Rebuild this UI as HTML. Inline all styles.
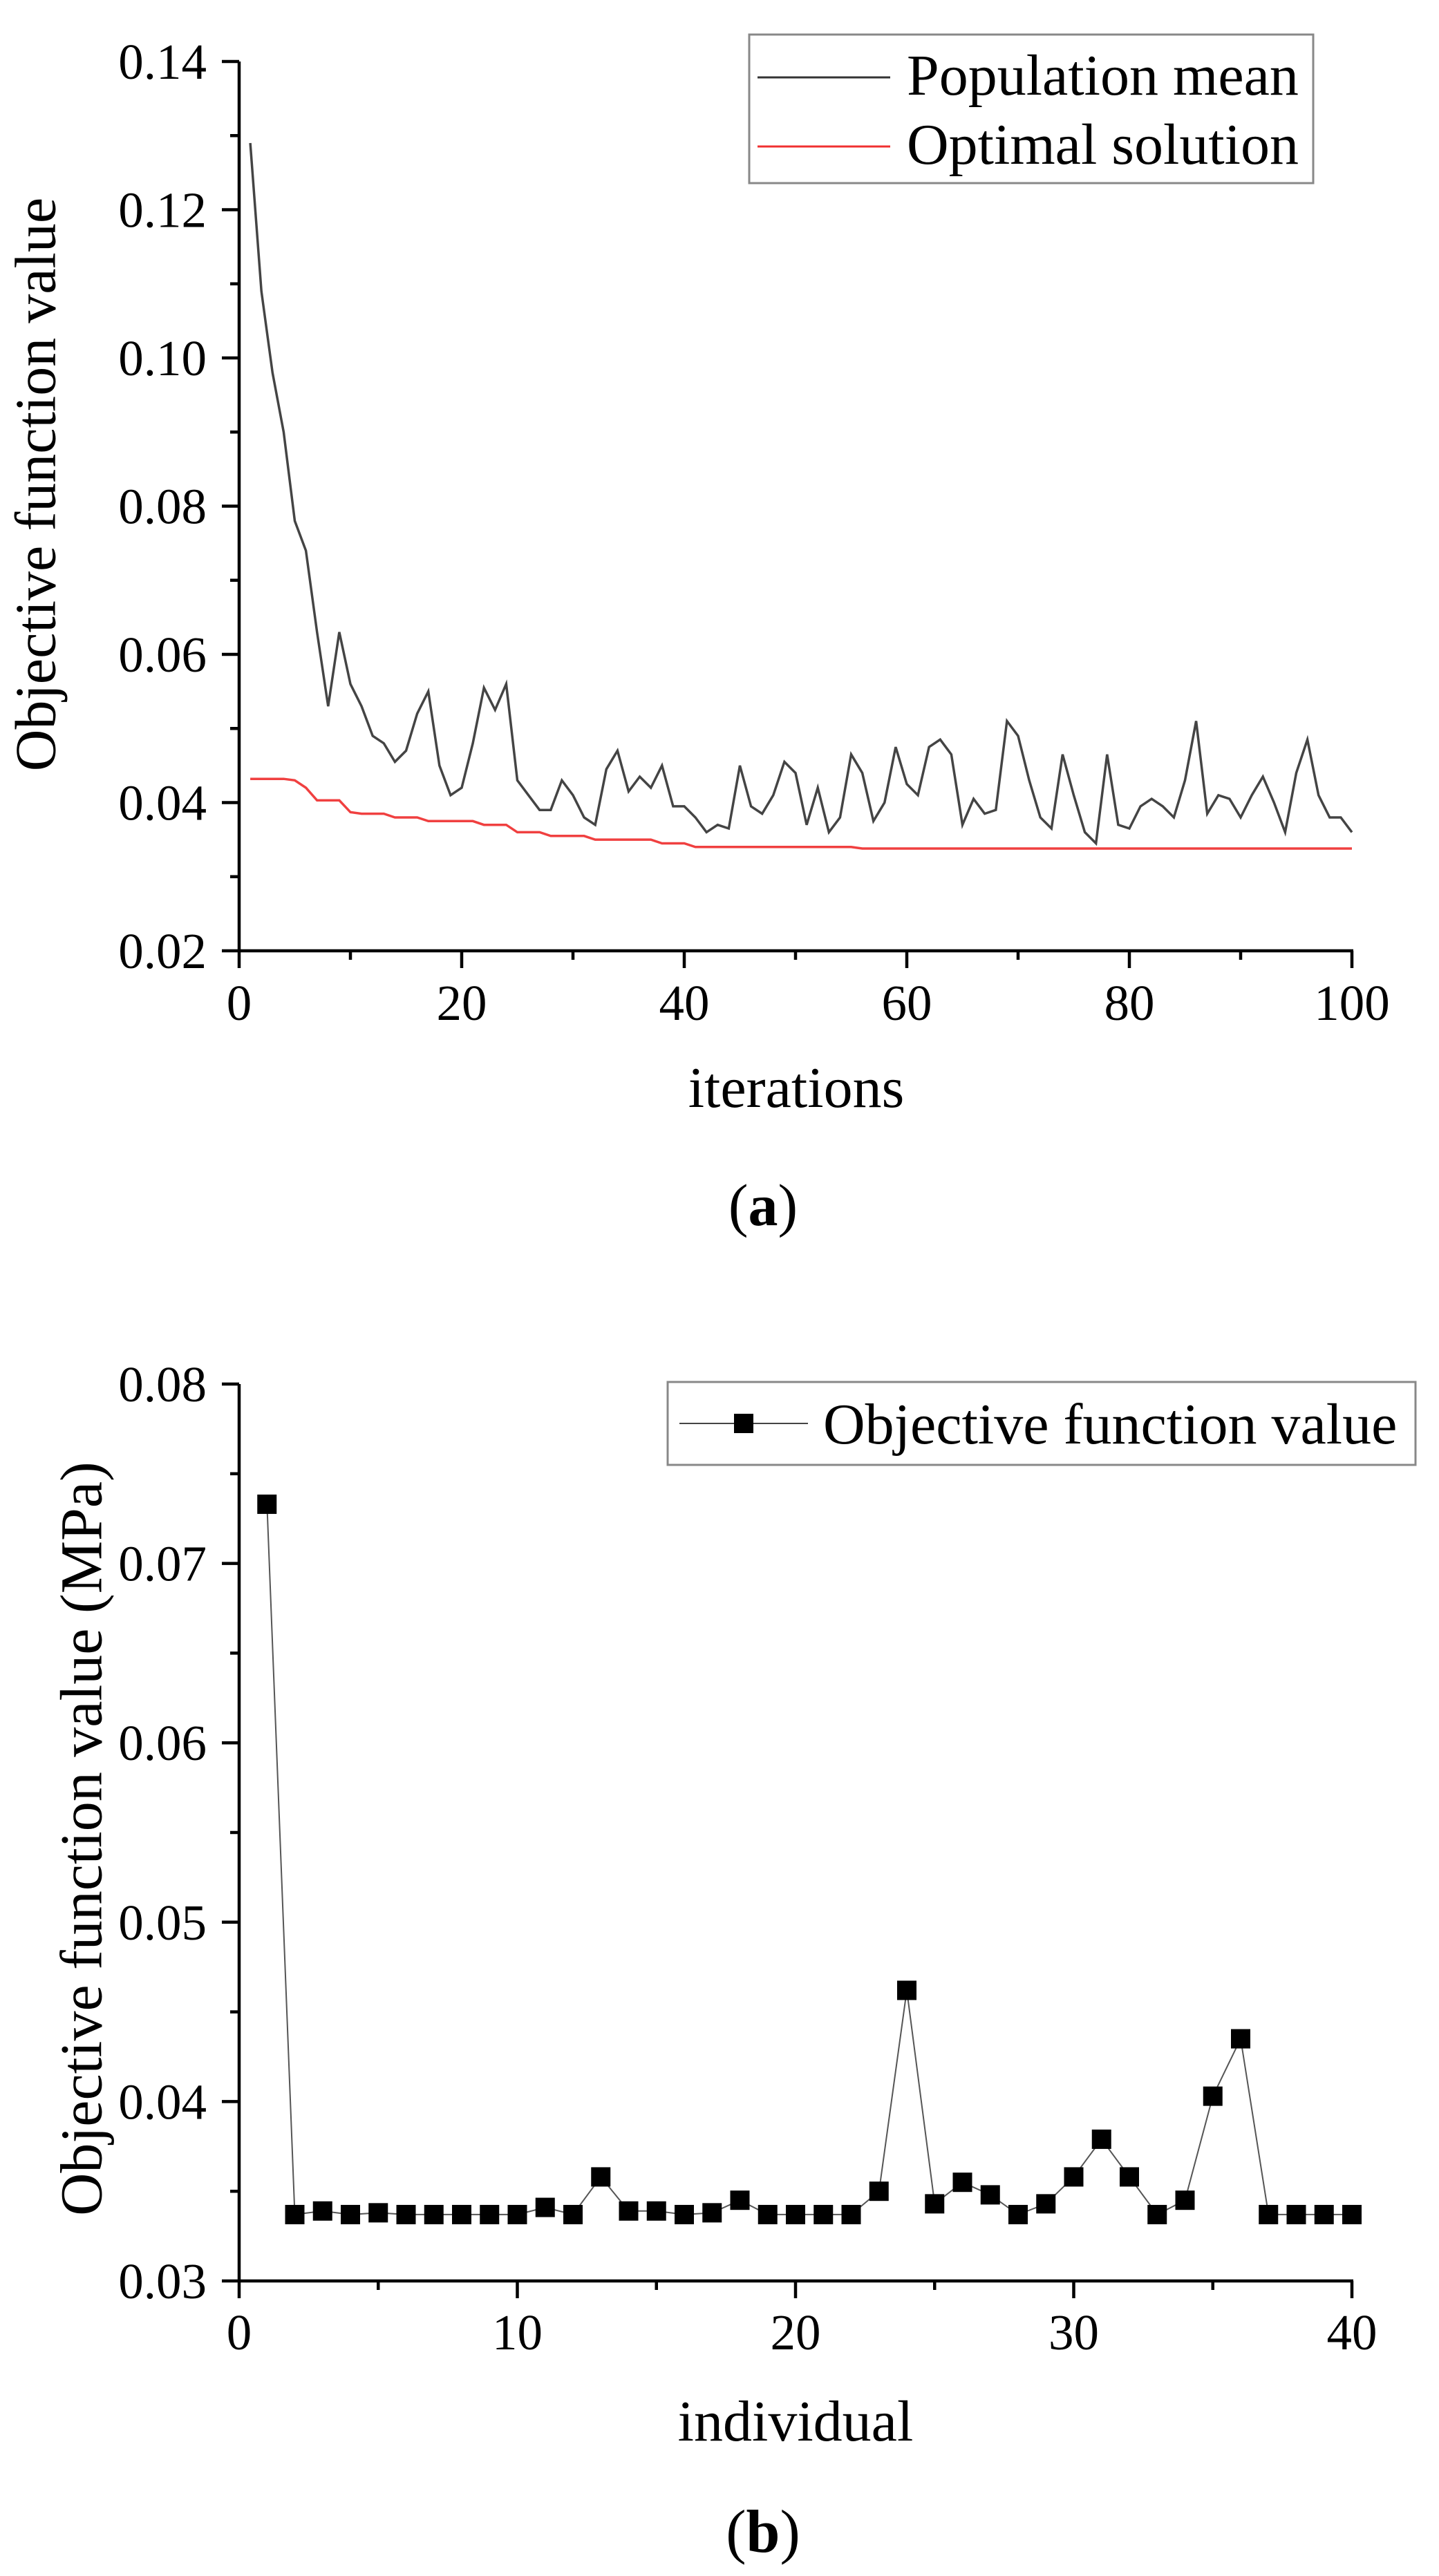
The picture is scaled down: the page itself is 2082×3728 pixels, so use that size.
<!DOCTYPE html>
<html><head><meta charset="utf-8"><style>
html,body{margin:0;padding:0;background:#fff;}
svg{display:block;}
text{font-family:"Liberation Serif",serif;fill:#000;}
</style></head><body>
<svg id="s" width="2082" height="3728" viewBox="0 0 2082 3728" xmlns="http://www.w3.org/2000/svg">
<rect width="2082" height="3728" fill="#fff"/>
<g id="a"></g>
<g id="b"></g>
<text x="60" y="701" font-size="84" text-anchor="middle" transform="rotate(-90 60 701)" dominant-baseline="middle">Objective function value</text>
<text x="1152" y="1602" font-size="84" text-anchor="middle">iterations</text>
<text x="1104" y="1773" font-size="86" text-anchor="middle">(<tspan font-weight="bold">a</tspan>)</text>
<rect x="1084" y="50" width="816" height="215" fill="#fff" stroke="#888" stroke-width="3"/>
<line x1="1096" y1="112" x2="1288" y2="112" stroke="#333" stroke-width="3"/>
<line x1="1096" y1="212" x2="1288" y2="212" stroke="#f03030" stroke-width="3"/>
<text x="1312" y="137" font-size="84">Population mean</text>
<text x="1312" y="237" font-size="84">Optimal solution</text>
<text x="127" y="2661" font-size="86" text-anchor="middle" transform="rotate(-90 127 2661)" dominant-baseline="middle">Objective function value (MPa)</text>
<text x="1151" y="3532" font-size="84" text-anchor="middle">individual</text>
<text x="1104" y="3693" font-size="88" text-anchor="middle">(<tspan font-weight="bold">b</tspan>)</text>
<rect x="966" y="2000" width="1082" height="120" fill="#fff" stroke="#888" stroke-width="3"/>
<line x1="983" y1="2060" x2="1169" y2="2060" stroke="#444" stroke-width="2"/>
<rect x="1062" y="2046" width="28" height="28" fill="#000"/>
<text x="1191" y="2089" font-size="84">Objective function value</text>
</svg>
<script>
var NS="http://www.w3.org/2000/svg";
function el(p,t,a){var e=document.createElementNS(NS,t);for(var k in a)e.setAttribute(k,a[k]);p.appendChild(e);return e;}
function txt(p,x,y,s,anchor,fs){var e=el(p,"text",{x:x,y:y,"font-size":fs,"text-anchor":anchor});e.textContent=s;return e;}
var A=document.getElementById("a");
var ax0=346,ax1=1956,ay0=1376,ay1=89;
function X(i){return ax0+(ax1-ax0)*i/100;}
function Y(v){return ay0-(ay0-ay1)*(v-0.02)/0.12;}
for(var i=0;i<=100;i+=10){var maj=i%20==0;el(A,"line",{x1:X(i),y1:ay0,x2:X(i),y2:ay0+(maj?25:13),stroke:"#000","stroke-width":4.5});
 if(maj)txt(A,X(i),1476,String(i),"middle",73);}
for(var k=0;k<=12;k++){var v=0.02+k*0.01;var maj=k%2==0;el(A,"line",{x1:ax0,y1:Y(v),x2:ax0-(maj?25:13),y2:Y(v),stroke:"#000","stroke-width":4.5});
 if(maj)txt(A,299,Y(v)+25,v.toFixed(2),"end",73);}
var pm=[0.129,0.109,0.098,0.090,0.078,0.074,0.063,0.053,0.063,0.056,0.053,0.049,0.048,0.0455,0.047,0.052,0.055,0.045,0.041,0.042,0.048,0.0555,0.0525,0.056,0.043,0.041,0.039,0.039,0.043,0.041,0.038,0.037,0.0445,0.047,0.0415,0.0435,0.042,0.045,0.0395,0.0395,0.038,0.036,0.037,0.0365,0.045,0.0395,0.0385,0.041,0.0455,0.044,0.037,0.042,0.036,0.038,0.0465,0.044,0.0375,0.040,0.0475,0.0425,0.041,0.0475,0.0485,0.0465,0.037,0.0405,0.0385,0.039,0.051,0.049,0.043,0.038,0.0365,0.0465,0.041,0.036,0.0345,0.0465,0.037,0.0365,0.0395,0.0405,0.0395,0.038,0.043,0.051,0.0385,0.041,0.0405,0.038,0.041,0.0435,0.040,0.036,0.044,0.0485,0.041,0.038,0.038,0.036];
var opt=[];
for(var i=1;i<=100;i++){var v;
 if(i<=4)v=0.0432;else if(i==5)v=0.043;else if(i==6)v=0.042;else if(i<=9)v=0.0403;else if(i==10)v=0.0387;else if(i<=13)v=0.0385;else if(i<=16)v=0.038;else if(i<=21)v=0.0375;else if(i<=24)v=0.037;else if(i<=27)v=0.036;else if(i<=31)v=0.0355;else if(i<=37)v=0.035;else if(i<=40)v=0.0345;else if(i<=55)v=0.034;else v=0.0338;
 opt.push(v);}
function pts(arr,Xf,Yf){return arr.map(function(v,j){return Xf(j+1).toFixed(1)+","+Yf(v).toFixed(1);}).join(" ");}
el(A,"polyline",{points:pts(opt,X,Y),fill:"none",stroke:"#f04040","stroke-width":3.5});
el(A,"polyline",{points:pts(pm,X,Y),fill:"none",stroke:"#444","stroke-width":3.5});
el(A,"line",{x1:ax0,y1:ay1,x2:ax0,y2:ay0+2,stroke:"#000","stroke-width":4.5});
el(A,"line",{x1:ax0-2,y1:ay0,x2:ax1+2,y2:ay0,stroke:"#000","stroke-width":4.5});
var B=document.getElementById("b");
var bx0=346,bx1=1956,by0=3301,by1=2003;
function XB(i){return bx0+(bx1-bx0)*i/40;}
function YB(v){return by0-(by0-by1)*(v-0.03)/0.05;}
for(var i=0;i<=40;i+=5){var maj=i%10==0;el(B,"line",{x1:XB(i),y1:by0,x2:XB(i),y2:by0+(maj?25:13),stroke:"#000","stroke-width":4.5});
 if(maj)txt(B,XB(i),3400,String(i),"middle",73);}
for(var k=0;k<=10;k++){var v=0.03+k*0.005;var maj=k%2==0;el(B,"line",{x1:bx0,y1:YB(v),x2:bx0-(maj?25:13),y2:YB(v),stroke:"#000","stroke-width":4.5});
 if(maj)txt(B,299,YB(v)+25,v.toFixed(2),"end",73);}
var bv=[0.0733,0.0337,0.0339,0.0337,0.0338,0.0337,0.0337,0.0337,0.0337,0.0337,0.0341,0.0337,0.0358,0.0339,0.0339,0.0337,0.0338,0.0345,0.0337,0.0337,0.0337,0.0337,0.035,0.0462,0.0343,0.0355,0.0348,0.0337,0.0343,0.0358,0.0379,0.0358,0.0337,0.0345,0.0403,0.0435,0.0337,0.0337,0.0337,0.0337];
el(B,"polyline",{points:pts(bv,XB,YB),fill:"none",stroke:"#555","stroke-width":2});
bv.forEach(function(v,j){el(B,"rect",{x:XB(j+1)-14,y:YB(v)-14,width:28,height:28,fill:"#000"});});
el(B,"line",{x1:bx0,y1:by1,x2:bx0,y2:by0+2,stroke:"#000","stroke-width":4.5});
el(B,"line",{x1:bx0-2,y1:by0,x2:bx1+2,y2:by0,stroke:"#000","stroke-width":4.5});
</script>
</body></html>
